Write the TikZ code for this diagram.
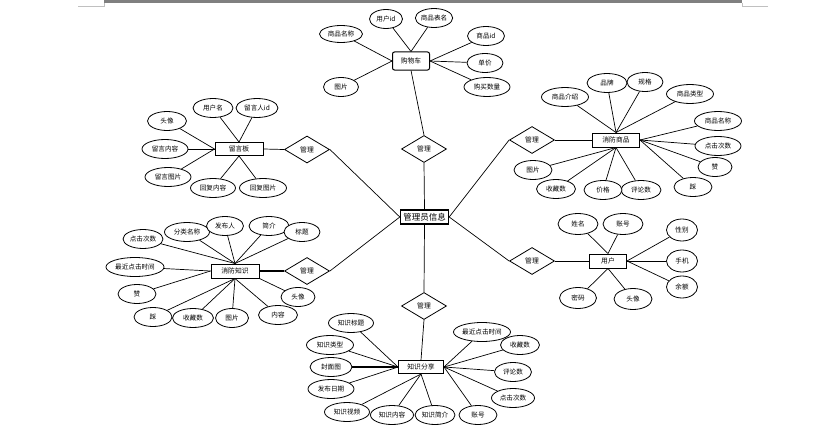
\documentclass[tikz,border=0pt]{standalone}
\usepackage{fontspec}
\newfontfamily\cjk{Noto Sans CJK SC}
\usetikzlibrary{shapes.geometric}
\definecolor{barGray}{HTML}{808080}
\definecolor{markGray}{HTML}{C0C0C0}
\begin{document}
\begin{tikzpicture}[x=1pt,y=-1pt,
  attr/.style={ellipse,draw,fill=white,line width=0.8pt,inner sep=0pt,minimum height=19pt,minimum width=#1,font=\cjk\fontsize{6.6}{7}\selectfont},
  attr/.default=38pt,
  ent/.style={rectangle,draw,fill=white,line width=1pt,inner sep=0pt,minimum height=14pt,minimum width=#1,font=\cjk\fontsize{6.8}{7}\selectfont},
  ent/.default=47pt,
  rel/.style={diamond,draw,fill=white,line width=0.8pt,inner sep=0pt,minimum width=45pt,minimum height=27pt,aspect=1.67,font=\cjk\fontsize{6.8}{7}\selectfont},
  conn/.style={line width=0.7pt},
  thickconn/.style={line width=1.3pt}]
\useasboundingbox (0,0) rectangle (834,436);
% page decoration
\fill[barGray] (104,0) rectangle (742,3);
\draw[markGray,line width=0.8pt] (78,6) -- (104,6) -- (104,3);
\draw[markGray,line width=0.8pt] (768,6) -- (742,6) -- (742,3);

% central entity
\node[ent=48pt,line width=1.4pt,font=\cjk\fontsize{8.5}{9}\selectfont] (admin) at (424.5,217) {管理员信息};

% relationships
\node[rel] (dT) at (424,149) {管理};
\node[rel] (dUL) at (307,149.5) {管理};
\node[rel] (dLL) at (307,271) {管理};
\node[rel] (dUR) at (532,140) {管理};
\node[rel] (dLR) at (532,261) {管理};
\node[rel] (dB) at (424,306) {管理};

% entities
\node[ent=37pt,minimum height=18pt,rounded corners=2pt] (cart) at (411,61) {购物车};
\node[ent=47pt] (goods) at (616,140) {消防商品};
\node[ent=48pt,minimum height=13pt] (board) at (239,149) {留言板};
\node[ent=48pt] (know) at (235,271) {消防知识};
\node[ent=37pt] (user) at (608,261) {用户};
\node[ent=45pt,minimum height=13pt] (share) at (421,367) {知识分享};

% cart attributes
\node[attr=33pt] (c1) at (386,19) {用户id};
\node[attr=36pt] (c2) at (434,18) {商品表名};
\node[attr=43pt,minimum height=17pt] (c3) at (341,34) {商品名称};
\node[attr=37pt] (c4) at (486,36) {商品id};
\node[attr=36pt] (c5) at (485,63) {单价};
\node[attr=46pt] (c6) at (487,87) {购买数量};
\node[attr=35pt] (c7) at (341,87) {图片};

% goods attributes
\node[attr=47pt] (g1) at (565,97) {商品介绍};
\node[attr=40pt] (g2) at (607,83) {品牌};
\node[attr=36pt] (g3) at (645,82) {规格};
\node[attr=47pt] (g4) at (690,94) {商品类型};
\node[attr=47pt] (g5) at (718,121) {商品名称};
\node[attr=46pt] (g6) at (718,146) {点击次数};
\node[attr=34pt] (g7) at (715,167) {赞};
\node[attr=38pt] (g8) at (693,187) {踩};
\node[attr=40pt] (g9) at (641,190) {评论数};
\node[attr=38pt] (g10) at (603,190) {价格};
\node[attr=39pt] (g11) at (556,189) {收藏数};
\node[attr=38pt] (g12) at (533,170) {图片};

% board attributes
\node[attr=40pt] (b1) at (213,108) {用户名};
\node[attr=42pt] (b2) at (257,108) {留言人id};
\node[attr=39pt] (b3) at (167,121) {头像};
\node[attr=46pt] (b4) at (165,149) {留言内容};
\node[attr=46pt] (b5) at (168,177) {留言图片};
\node[attr=45pt] (b6) at (213,188) {回复内容};
\node[attr=47pt] (b7) at (263,188) {回复图片};

% knowledge attributes
\node[attr=40pt] (k1) at (143,239) {点击次数};
\node[attr=45pt] (k2) at (187,232) {分类名称};
\node[attr=37pt] (k3) at (225,226) {发布人};
\node[attr=40pt] (k4) at (269,226) {简介};
\node[attr=36pt] (k5) at (302,232) {标题};
\node[attr=58pt] (k6) at (135,267) {最近点击时间};
\node[attr=38pt] (k7) at (137,294) {赞};
\node[attr=38pt] (k8) at (153,317) {踩};
\node[attr=41pt] (k9) at (193,318) {收藏数};
\node[attr=33pt] (k10) at (232,318) {图片};
\node[attr=39pt] (k11) at (278,315) {内容};
\node[attr=34pt] (k12) at (298,297) {头像};

% user attributes
\node[attr=40pt,minimum height=21pt] (u1) at (578,224) {姓名};
\node[attr=40pt,minimum height=21pt] (u2) at (623,224) {账号};
\node[attr=31pt,minimum height=22pt] (u3) at (682,230) {性别};
\node[attr=31pt,minimum height=22pt] (u4) at (682,261) {手机};
\node[attr=31pt,minimum height=22pt] (u5) at (682,287) {余额};
\node[attr=37pt,minimum height=21pt] (u6) at (578,298) {密码};
\node[attr=38pt,minimum height=21pt] (u7) at (633,299) {头像};

% share attributes
\node[attr=45pt] (s1) at (351,323) {知识标题};
\node[attr=47pt] (s2) at (330,345) {知识类型};
\node[attr=42pt] (s3) at (331,367) {封面图};
\node[attr=46pt] (s4) at (331,389) {发布日期};
\node[attr=45pt] (s5) at (347,412) {知识视频};
\node[attr=43pt] (s6) at (392,415) {知识内容};
\node[attr=40pt] (s7) at (435,415) {知识简介};
\node[attr=38pt] (s8) at (478,415) {账号};
\node[attr=43pt] (s9) at (513,398) {点击次数};
\node[attr=37pt] (s10) at (513,372) {评论数};
\node[attr=39pt] (s11) at (520,345) {收藏数};
\node[attr=57pt] (s12) at (482,332) {最近点击时间};

% ---- connectors ----
\begin{scope}[on background layer/.style={}]
\draw[conn] (admin.north) -- (dT.south);
\draw[conn] (dT.north) -- (cart.south);
\draw[conn] (admin.west) -- (dUL.east);
\draw[conn] (dUL.west) -- (board.east);
\draw[conn] (admin.west) -- (dLL.east);
\draw[thickconn] (dLL.west) -- (know.east);
\draw[conn] (admin.east) -- (dUR.west);
\draw[conn] (dUR.east) -- (goods.west);
\draw[conn] (admin.east) -- (dLR.west);
\draw[conn] (dLR.east) -- (user.west);
\draw[conn] (admin.south) -- (dB.north);
\draw[conn] (dB.south) -- (share.north);

\foreach \a in {c1,c2} \draw[conn] (\a) -- (cart.north);
\foreach \a in {c3,c7} \draw[conn] (\a) -- (cart.west);
\foreach \a in {c4,c5,c6} \draw[conn] (\a) -- (cart.east);

\foreach \a in {g1,g2,g3,g4} \draw[conn] (\a) -- (goods.north);
\foreach \a in {g5,g6,g7,g8} \draw[conn] (\a) -- (goods.east);
\foreach \a in {g9,g10,g11,g12} \draw[conn] (\a) -- (goods.south);

\foreach \a in {b1,b2} \draw[conn] (\a) -- (board.north);
\foreach \a in {b3,b4,b5} \draw[conn] (\a) -- (board.west);
\foreach \a in {b6,b7} \draw[conn] (\a) -- (board.south);

\foreach \a in {k1,k2,k3,k4,k5} \draw[conn] (\a) -- (know.north);
\foreach \a in {k6,k7} \draw[conn] (\a) -- (know.west);
\foreach \a in {k8,k9,k10,k11} \draw[conn] (\a) -- (know.south);
\draw[conn] (k12) -- (know.south east);

\foreach \a in {u1,u2} \draw[conn] (\a) -- (user.north);
\foreach \a in {u3,u4,u5} \draw[conn] (\a) -- (user.east);
\foreach \a in {u6,u7} \draw[conn] (\a) -- (user.south);

\foreach \a in {s1,s2,s4} \draw[conn] (\a) -- (share.west);
\draw[thickconn] (s3) -- (share.west);
\foreach \a in {s5,s6,s7} \draw[conn] (\a) -- (share.south);
\foreach \a in {s8,s9,s10,s11,s12} \draw[conn] (\a) -- (share.east);
\end{scope}
\end{tikzpicture}
\end{document}
